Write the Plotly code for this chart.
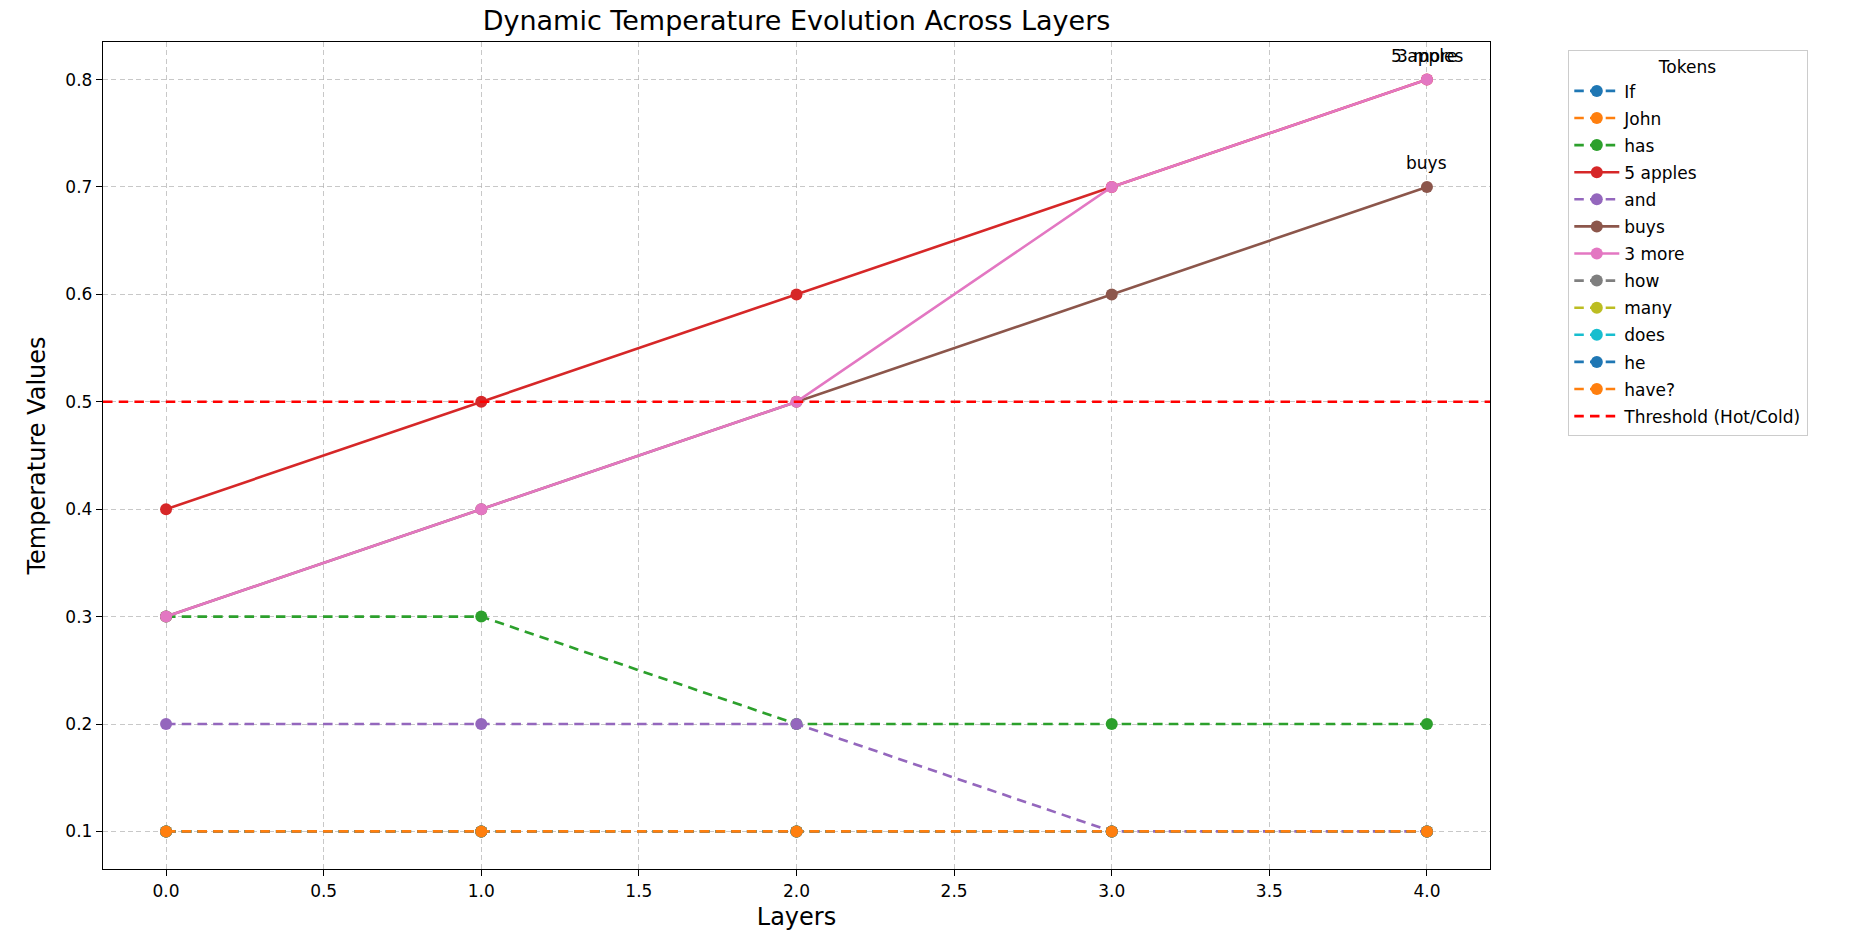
import plotly.graph_objects as go

layers = [0, 1, 2, 3, 4]
tokens = ["If", "John", "has", "5 apples", "and", "buys", "3 more",
          "how", "many", "does", "he", "have?"]
values = {
    "If":       [0.1, 0.1, 0.1, 0.1, 0.1],
    "John":     [0.1, 0.1, 0.1, 0.1, 0.1],
    "has":      [0.3, 0.3, 0.2, 0.2, 0.2],
    "5 apples": [0.4, 0.5, 0.6, 0.7, 0.8],
    "and":      [0.2, 0.2, 0.2, 0.1, 0.1],
    "buys":     [0.3, 0.4, 0.5, 0.6, 0.7],
    "3 more":   [0.3, 0.4, 0.5, 0.7, 0.8],
    "how":      [0.1, 0.1, 0.1, 0.1, 0.1],
    "many":     [0.1, 0.1, 0.1, 0.1, 0.1],
    "does":     [0.1, 0.1, 0.1, 0.1, 0.1],
    "he":       [0.1, 0.1, 0.1, 0.1, 0.1],
    "have?":    [0.1, 0.1, 0.1, 0.1, 0.1],
}
threshold = 0.5
colors = ['#1f77b4', '#ff7f0e', '#2ca02c', '#d62728', '#9467bd', '#8c564b',
          '#e377c2', '#7f7f7f', '#bcbd22', '#17becf']

FONT = "DejaVu Sans"
W, H = 1853, 937
L, R, T, B = 103, 363, 42, 62

fig = go.Figure()
for i, tok in enumerate(tokens):
    vals = values[tok]
    hot = vals[-1] > threshold
    fig.add_trace(go.Scatter(
        x=layers, y=vals, name=tok, mode="lines+markers",
        legendgroup=tok,
        line=dict(color=colors[i % 10], width=2.6,
                  dash="solid" if hot else "9.5px,6.2px"),
        marker=dict(color=colors[i % 10], size=12, symbol="circle"),
    ))

fig.add_hline(y=threshold, line=dict(color="#ff0000", width=2.6, dash="9.5px,6.2px"),
              showlegend=True, name="Threshold (Hot/Cold)", legendgroup="thr")

for tok in tokens:
    vals = values[tok]
    if vals[-1] > threshold:
        fig.add_annotation(x=layers[-1], y=vals[-1], text=tok, showarrow=False,
                           xanchor="center", yanchor="bottom", yshift=12,
                           font=dict(family=FONT, size=17, color="black"))

axis_common = dict(
    showline=True, mirror=True, linecolor="black", linewidth=1.4,
    ticks="outside", ticklen=6, tickwidth=1.4, tickcolor="black",
    showgrid=True, gridcolor="rgba(176,176,176,0.7)", gridwidth=1.3,
    griddash="5px,3.3px", zeroline=False,
    tickfont=dict(family=FONT, size=17, color="black"),
)

fig.update_layout(
    width=W, height=H,
    margin=dict(l=L, r=R, t=T, b=B),
    paper_bgcolor="white", plot_bgcolor="white",
    title=dict(text="Dynamic Temperature Evolution Across Layers",
               x=(L + (W - R)) / 2 / W, xanchor="center",
               y=1 - 21 / H, yanchor="middle",
               font=dict(family=FONT, size=27, color="black")),
    xaxis=dict(range=[-0.2, 4.2], dtick=0.5, tick0=0, tickformat=".1f",
               title=dict(text="Layers", font=dict(family=FONT, size=24, color="black"),
                          standoff=8),
               **axis_common),
    yaxis=dict(range=[0.065, 0.835], dtick=0.1, tick0=0, tickformat=".1f",
               title=dict(text="Temperature Values",
                          font=dict(family=FONT, size=24, color="black"), standoff=12),
               **axis_common),
    legend=dict(
        x=(1568 - L) / (W - L - R), xanchor="left",
        y=(H - B - 50) / (H - T - B), yanchor="top",
        bgcolor="white", bordercolor="#cccccc", borderwidth=1.3,
        font=dict(family=FONT, size=17, color="black"),
        title=dict(text="Tokens", side="top center",
                   font=dict(family=FONT, size=17, color="black")),
        tracegroupgap=2, traceorder="grouped", itemwidth=45,
    ),
    showlegend=True,
)

fig.write_html("out.html", config={"displayModeBar": False},
               post_script="document.body.style.margin='0';")
